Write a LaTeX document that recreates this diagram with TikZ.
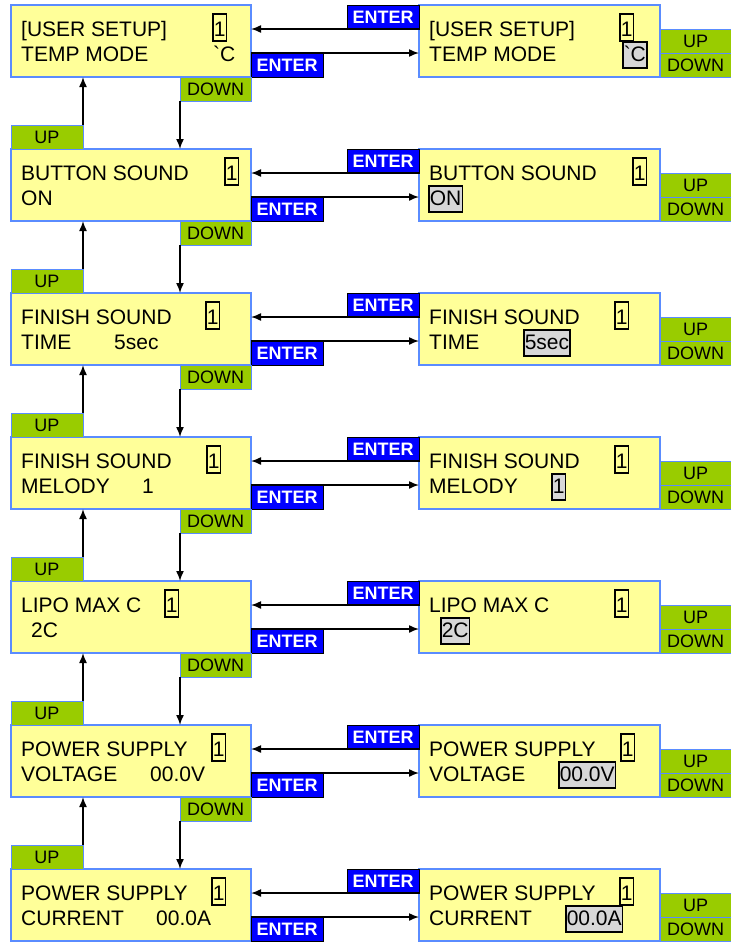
\documentclass[tikz,border=0pt]{standalone}
\usepackage{fontspec}
\setmainfont{Liberation Sans}
\usepackage{xcolor}
\usetikzlibrary{arrows.meta,positioning}

\definecolor{lcdyellow}{RGB}{255,255,153}
\definecolor{lcdedge}{RGB}{90,140,255}
\definecolor{keygreen}{RGB}{153,204,0}
\definecolor{keyblue}{RGB}{0,0,255}
\definecolor{selgrey}{RGB}{215,215,215}

\newcommand{\gravechar}{\XeTeXglyph\XeTeXcharglyph"60\relax}

\tikzset{
  lcd/.style={draw=lcdedge,fill=lcdyellow,line width=1.5pt,minimum height=72pt,inner sep=0pt,outer sep=0pt,anchor=north west},
  lcdtext/.style={anchor=base west,inner sep=0pt,font=\fontsize{21}{25}\selectfont},
  cursor/.style={lcdtext,draw=black,line width=1.5pt,inner xsep=1pt,inner ysep=1pt,text height=21pt,text depth=4pt},
  selected/.style={lcdtext,draw=black,fill=selgrey,line width=1.5pt,inner xsep=1pt,inner ysep=1pt,text height=18pt,text depth=6pt},
  enterkey/.style={draw=black,fill=keyblue,text=white,line width=1pt,minimum width=72pt,minimum height=24pt,inner sep=0pt,outer sep=0pt,font=\fontsize{18}{20}\selectfont\bfseries},
  greenkey/.style={draw=lcdedge,fill=keygreen,line width=1pt,minimum width=71pt,minimum height=24pt,inner sep=0pt,outer sep=0pt,font=\fontsize{18}{20}\selectfont},
  flow/.style={line width=1.5pt,-{Latex[length=10pt,width=8pt]}}
}

\begin{document}
\begin{tikzpicture}[x=1pt,y=-1pt]
\useasboundingbox (0,0) rectangle (731,943);

%Draw menu screens, edit screens and ENTER keys
\foreach \i/\t in {1/5,2/149,3/293,4/437,5/581,6/725,7/869}{
  \node[lcd,minimum width=240pt] (menu\i) at (11,\t) {};
  \node[lcd,minimum width=241pt] (edit\i) at (419,\t) {};
  \node[enterkey,anchor=north east] (entin\i) at (edit\i.north west) {ENTER};
  \node[enterkey,anchor=south west] (entout\i) at (menu\i.south east) {ENTER};
  \node[greenkey,anchor=south west] (editdown\i) at (edit\i.south east) {DOWN};
  \node[greenkey,anchor=south west] (editup\i) at (editdown\i.north west) {UP};
  \draw[flow] (entin\i.south east) -- (entin\i.south east -| menu\i.east);
  \draw[flow] (entout\i.north west) -- (entout\i.north west -| edit\i.west);
}

%Draw UP and DOWN keys between menus
\foreach \i [evaluate=\i as \j using int(\i+1)] in {1,...,6}{
  \node[greenkey,anchor=north east] (down\i) at (menu\i.south east) {DOWN};
  \node[greenkey,anchor=south west,minimum width=72pt] (up\j) at (menu\j.north west) {UP};
  \draw[flow] (down\i.south west) -- (down\i.south west |- menu\j.north);
  \draw[flow] (up\j.north east) -- (up\j.north east |- menu\i.south);
}

%Row 1: temp mode
\node[lcdtext] (menu1a) at (21,36) {[USER SETUP]};
\node[cursor] (menu1c) at (212,36) {1};
\node[lcdtext] (menu1b) at (21,61) {TEMP MODE};
\node[lcdtext] (menu1v) at (213,61) {\gravechar C};
\node[lcdtext] (edit1a) at (429,36) {[USER SETUP]};
\node[cursor] (edit1c) at (619,36) {1};
\node[lcdtext] (edit1b) at (429,61) {TEMP MODE};
\node[selected] (edit1v) at (622,61) {\gravechar C};

%Row 2: button sound
\node[lcdtext] (menu2a) at (21,180) {BUTTON SOUND};
\node[cursor] (menu2c) at (224,180) {1};
\node[lcdtext] (menu2b) at (21,205) {ON};
\node[lcdtext] (edit2a) at (429,180) {BUTTON SOUND};
\node[cursor] (edit2c) at (632,180) {1};
\node[selected] (edit2v) at (428,205) {ON};

%Row 3: finish sound time
\node[lcdtext] (menu3a) at (21,324) {FINISH SOUND};
\node[cursor] (menu3c) at (205,324) {1};
\node[lcdtext] (menu3b) at (21,349) {TIME};
\node[lcdtext] (menu3v) at (114,349) {5sec};
\node[lcdtext] (edit3a) at (429,324) {FINISH SOUND};
\node[cursor] (edit3c) at (614,324) {1};
\node[lcdtext] (edit3b) at (429,349) {TIME};
\node[selected] (edit3v) at (523,349) {5sec};

%Row 4: finish sound melody
\node[lcdtext] (menu4a) at (21,468) {FINISH SOUND};
\node[cursor] (menu4c) at (206,468) {1};
\node[lcdtext] (menu4b) at (21,493) {MELODY};
\node[lcdtext] (menu4v) at (142,493) {1};
\node[lcdtext] (edit4a) at (429,468) {FINISH SOUND};
\node[cursor] (edit4c) at (614,468) {1};
\node[lcdtext] (edit4b) at (429,493) {MELODY};
\node[selected] (edit4v) at (551,493) {1};

%Row 5: lipo max c
\node[lcdtext] (menu5a) at (21,612) {LIPO MAX C};
\node[cursor] (menu5c) at (164,612) {1};
\node[lcdtext] (menu5v) at (31,637) {2C};
\node[lcdtext] (edit5a) at (429,612) {LIPO MAX C};
\node[cursor] (edit5c) at (614,612) {1};
\node[selected] (edit5v) at (440,637) {2C};

%Row 6: power supply voltage
\node[lcdtext] (menu6a) at (21,756) {POWER SUPPLY};
\node[cursor] (menu6c) at (211,756) {1};
\node[lcdtext] (menu6b) at (21,781) {VOLTAGE};
\node[lcdtext] (menu6v) at (150,781) {00.0V};
\node[lcdtext] (edit6a) at (429,756) {POWER SUPPLY};
\node[cursor] (edit6c) at (620,756) {1};
\node[lcdtext] (edit6b) at (429,781) {VOLTAGE};
\node[selected] (edit6v) at (558,781) {00.0V};

%Row 7: power supply current
\node[lcdtext] (menu7a) at (21,900) {POWER SUPPLY};
\node[cursor] (menu7c) at (211,900) {1};
\node[lcdtext] (menu7b) at (21,925) {CURRENT};
\node[lcdtext] (menu7v) at (156,925) {00.0A};
\node[lcdtext] (edit7a) at (429,900) {POWER SUPPLY};
\node[cursor] (edit7c) at (619,900) {1};
\node[lcdtext] (edit7b) at (429,925) {CURRENT};
\node[selected] (edit7v) at (565,925) {00.0A};
\end{tikzpicture}
\end{document}
